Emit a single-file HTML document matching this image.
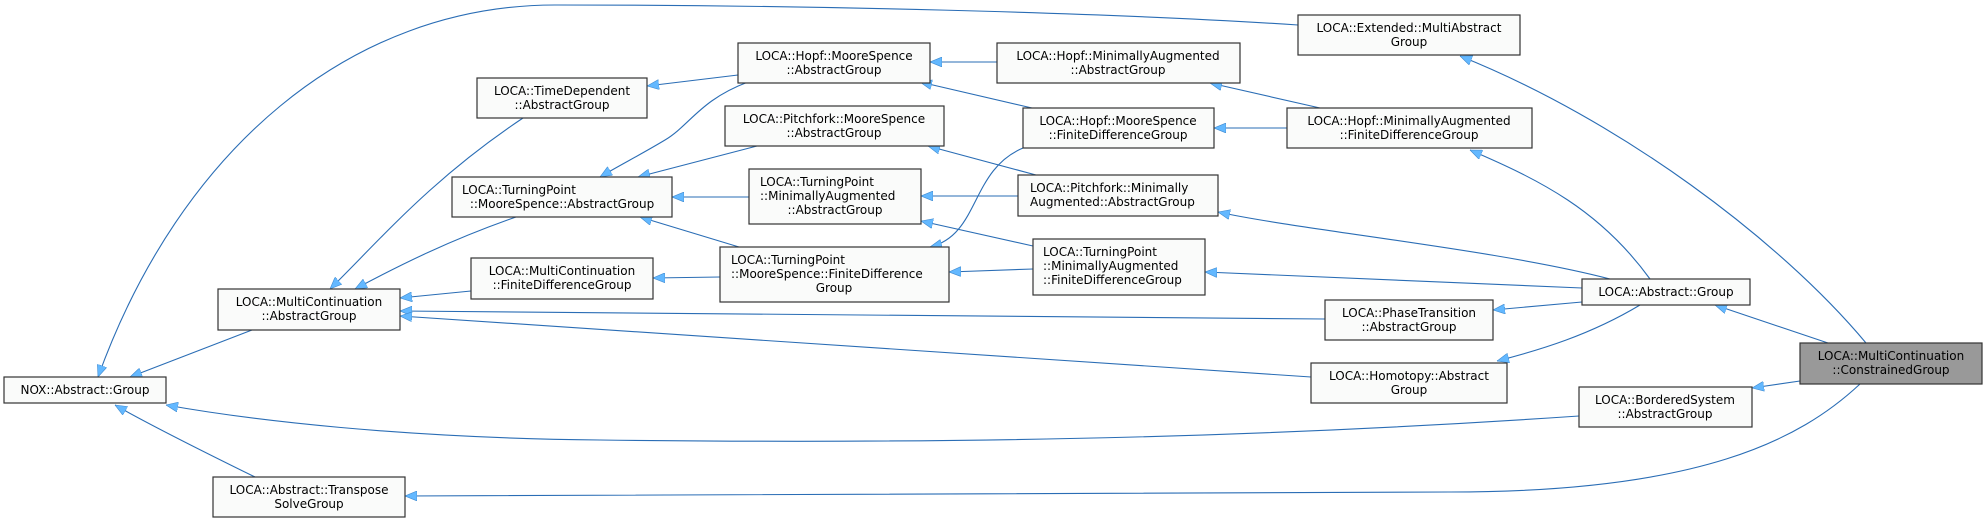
<!DOCTYPE html>
<html><head><meta charset="utf-8"><style>
html,body{margin:0;padding:0;background:#fff;}
svg{display:block;}
text{font-family:"DejaVu Sans","Liberation Sans",sans-serif;font-size:12px;fill:#000;text-anchor:middle;}
rect.n{fill:#fafbfa;stroke:#333;stroke-width:1.2;}
path.e{fill:none;stroke:#2a6db5;stroke-width:1.1;}
</style></head><body>
<svg width="1987" height="527" viewBox="0 0 1987 527" xmlns="http://www.w3.org/2000/svg">
<defs>
<marker id="a" viewBox="0 0 12 10" refX="12" refY="5" markerWidth="12" markerHeight="10" markerUnits="userSpaceOnUse" orient="auto">
<path d="M0,0 L12,5 L0,10 z" fill="#63b8ff" stroke="#3f8ad0" stroke-width="0.6"/>
</marker>
</defs>
<g>
<path class="e" marker-end="url(#a)" d="M1866,343 C1780,240 1620,120 1460,56"/>
<path class="e" marker-end="url(#a)" d="M1828,343 L1715,305"/>
<path class="e" marker-end="url(#a)" d="M1800,381 L1752,388"/>
<path class="e" marker-end="url(#a)" d="M1860,384 C1800,440 1700,492 1450,492 L405,496"/>
<path class="e" marker-end="url(#a)" d="M1650,279 C1600,210 1540,180 1470,150"/>
<path class="e" marker-end="url(#a)" d="M1610,279 C1500,250 1300,230 1218,212"/>
<path class="e" marker-end="url(#a)" d="M1582,288 L1205,272"/>
<path class="e" marker-end="url(#a)" d="M1582,302 L1493,310"/>
<path class="e" marker-end="url(#a)" d="M1640,305 C1590,335 1540,350 1497,361"/>
<path class="e" marker-end="url(#a)" d="M1325,319 L400,311"/>
<path class="e" marker-end="url(#a)" d="M1311,377 L400,316"/>
<path class="e" marker-end="url(#a)" d="M1579,416 C1300,435 1000,445 600,440 C400,438 250,420 166,405"/>
<path class="e" marker-end="url(#a)" d="M255,477 C200,450 150,425 115,405"/>
<path class="e" marker-end="url(#a)" d="M252,330 L130,377"/>
<path class="e" marker-end="url(#a)" d="M1298,25 C1100,12 800,5 555,5 C350,5 180,150 98,377"/>
<path class="e" marker-end="url(#a)" d="M523,118 C430,180 380,240 330,289"/>
<path class="e" marker-end="url(#a)" d="M516,217 C450,240 400,265 355,289"/>
<path class="e" marker-end="url(#a)" d="M471,291 L400,298"/>
<path class="e" marker-end="url(#a)" d="M720,277 L653,278"/>
<path class="e" marker-end="url(#a)" d="M738,75 L647,86"/>
<path class="e" marker-end="url(#a)" d="M748,82 C700,100 690,125 665,140 C640,155 620,165 600,177"/>
<path class="e" marker-end="url(#a)" d="M757,146 L638,177"/>
<path class="e" marker-end="url(#a)" d="M749,197 L672,197"/>
<path class="e" marker-end="url(#a)" d="M739,247 L640,217"/>
<path class="e" marker-end="url(#a)" d="M997,62 L930,62"/>
<path class="e" marker-end="url(#a)" d="M1032,108 L920,82"/>
<path class="e" marker-end="url(#a)" d="M1023,148 C970,170 980,235 930,247"/>
<path class="e" marker-end="url(#a)" d="M1320,108 L1210,83"/>
<path class="e" marker-end="url(#a)" d="M1287,128 L1214,128"/>
<path class="e" marker-end="url(#a)" d="M1036,175 L928,146"/>
<path class="e" marker-end="url(#a)" d="M1018,196 L921,196"/>
<path class="e" marker-end="url(#a)" d="M1033,246 L921,221"/>
<path class="e" marker-end="url(#a)" d="M1033,269 L949,272"/>
</g>
<g>
<rect class="n" x="1298" y="15" width="222" height="40"/><text x="1409" y="32">LOCA::Extended::MultiAbstract</text><text x="1409" y="46">Group</text>
<rect class="n" x="738" y="43" width="192" height="40"/><text x="834" y="60">LOCA::Hopf::MooreSpence</text><text x="834" y="74">::AbstractGroup</text>
<rect class="n" x="997" y="43" width="243" height="40"/><text x="1118" y="60">LOCA::Hopf::MinimallyAugmented</text><text x="1118" y="74">::AbstractGroup</text>
<rect class="n" x="477" y="78" width="170" height="40"/><text x="562" y="95">LOCA::TimeDependent</text><text x="562" y="109">::AbstractGroup</text>
<rect class="n" x="725" y="106" width="219" height="40"/><text x="834" y="123">LOCA::Pitchfork::MooreSpence</text><text x="834" y="137">::AbstractGroup</text>
<rect class="n" x="1023" y="108" width="191" height="40"/><text x="1118" y="125">LOCA::Hopf::MooreSpence</text><text x="1118" y="139">::FiniteDifferenceGroup</text>
<rect class="n" x="1287" y="108" width="245" height="40"/><text x="1409" y="125">LOCA::Hopf::MinimallyAugmented</text><text x="1409" y="139">::FiniteDifferenceGroup</text>
<rect class="n" x="452" y="177" width="220" height="40"/><text x="462" y="194" style="text-anchor:start">LOCA::TurningPoint</text><text x="562" y="208">::MooreSpence::AbstractGroup</text>
<rect class="n" x="749" y="169" width="172" height="55"/><text x="760" y="186" style="text-anchor:start">LOCA::TurningPoint</text><text x="760" y="200" style="text-anchor:start">::MinimallyAugmented</text><text x="835" y="214">::AbstractGroup</text>
<rect class="n" x="1018" y="175" width="200" height="41"/><text x="1030" y="192" style="text-anchor:start">LOCA::Pitchfork::Minimally</text><text x="1030" y="206" style="text-anchor:start">Augmented::AbstractGroup</text>
<rect class="n" x="471" y="258" width="182" height="41"/><text x="562" y="275">LOCA::MultiContinuation</text><text x="562" y="289">::FiniteDifferenceGroup</text>
<rect class="n" x="720" y="247" width="229" height="55"/><text x="731" y="264" style="text-anchor:start">LOCA::TurningPoint</text><text x="731" y="278" style="text-anchor:start">::MooreSpence::FiniteDifference</text><text x="834" y="292">Group</text>
<rect class="n" x="1033" y="239" width="172" height="56"/><text x="1043" y="256" style="text-anchor:start">LOCA::TurningPoint</text><text x="1043" y="270" style="text-anchor:start">::MinimallyAugmented</text><text x="1043" y="284" style="text-anchor:start">::FiniteDifferenceGroup</text>
<rect class="n" x="1582" y="279" width="168" height="26"/><text x="1666" y="296">LOCA::Abstract::Group</text>
<rect class="n" x="218" y="289" width="182" height="41"/><text x="309" y="306">LOCA::MultiContinuation</text><text x="309" y="320">::AbstractGroup</text>
<rect class="n" x="1325" y="300" width="168" height="40"/><text x="1409" y="317">LOCA::PhaseTransition</text><text x="1409" y="331">::AbstractGroup</text>
<rect x="1800" y="343" width="182" height="41" fill="#999" stroke="#333" stroke-width="1.2"/><text x="1891" y="360">LOCA::MultiContinuation</text><text x="1891" y="374">::ConstrainedGroup</text>
<rect class="n" x="1311" y="363" width="196" height="40"/><text x="1409" y="380">LOCA::Homotopy::Abstract</text><text x="1409" y="394">Group</text>
<rect class="n" x="4" y="377" width="162" height="26"/><text x="85" y="394">NOX::Abstract::Group</text>
<rect class="n" x="1579" y="387" width="173" height="40"/><text x="1665" y="404">LOCA::BorderedSystem</text><text x="1665" y="418">::AbstractGroup</text>
<rect class="n" x="213" y="477" width="192" height="40"/><text x="309" y="494">LOCA::Abstract::Transpose</text><text x="309" y="508">SolveGroup</text>
</g>
</svg>
</body></html>
